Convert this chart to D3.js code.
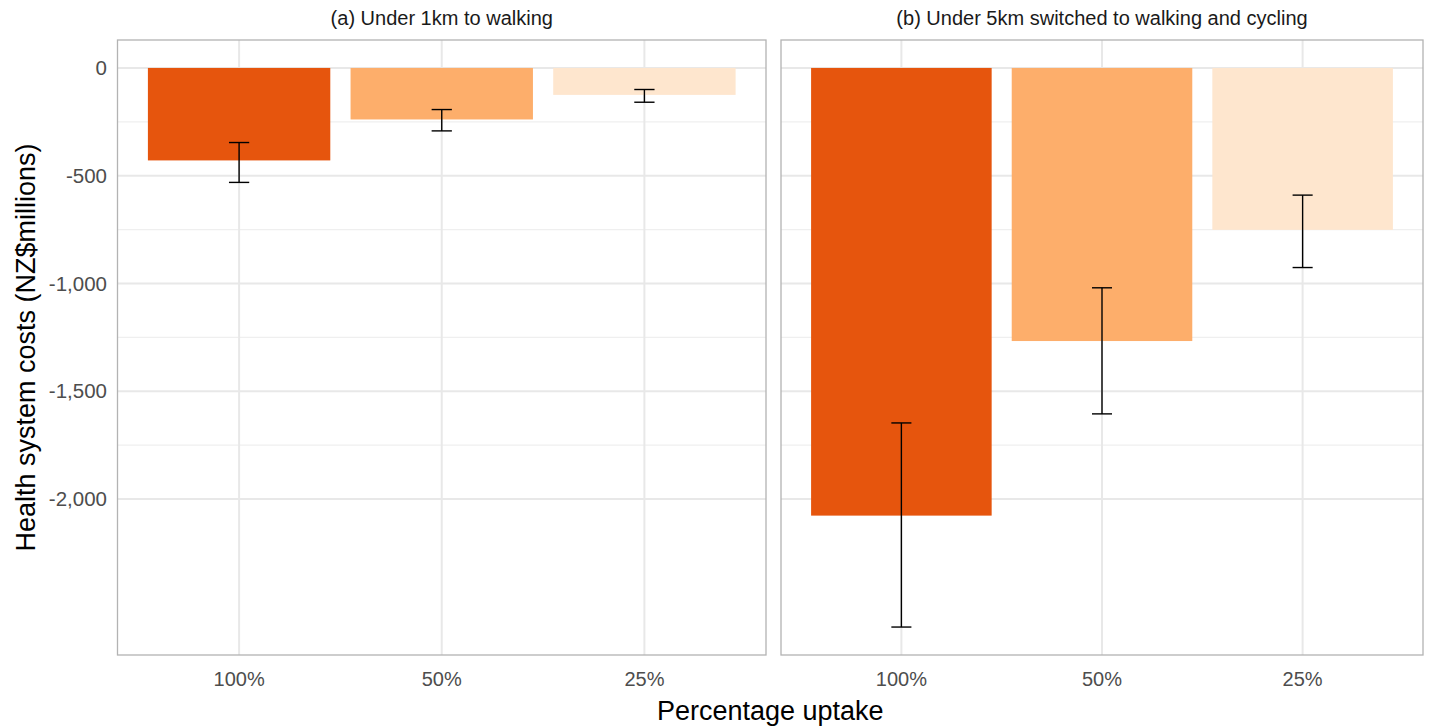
<!DOCTYPE html>
<html>
<head>
<meta charset="utf-8">
<script src="https://cdn.jsdelivr.net/npm/d3@7"></script>
<style>
  body { margin: 0; background: #fff; }
  text { font-family: "Liberation Sans", Arial, sans-serif; }
</style>
</head>
<body>
<div id="chart"></div>
<script>
// Data (NZ$ millions)
var panelTitles = ["(a) Under 1km to walking", "(b) Under 5km switched to walking and cycling"];
var uptake = ["100%", "50%", "25%"];
var uptakeColours = ["#e6550d", "#fdae6b", "#fee6ce"];

var walkCost = [-429, -239, -125];
var walkLow  = [-531, -292, -159];
var walkHigh = [-346, -193, -100];

var cycleCost = [-2077, -1267, -751];
var cycleLow  = [-2594, -1605, -926];
var cycleHigh = [-1647, -1020, -590];

var yBreaks = [0, -500, -1000, -1500, -2000];
var yMinor  = [-250, -750, -1250, -1750];

var panels = [
  {title: panelTitles[0], cost: walkCost, low: walkLow, high: walkHigh},
  {title: panelTitles[1], cost: cycleCost, low: cycleLow, high: cycleHigh}
];

// Layout
var W = 1434, H = 727;
var plotTop = 40, plotBottom = 655;
var panelEdges = [[117.5, 766], [781, 1423]];

var svg = d3.select("#chart").append("svg")
  .attr("width", W)
  .attr("height", H);

// y scale: shared, 5% expansion like ggplot
var allVals = [0].concat(walkLow, cycleLow, walkHigh, cycleHigh, walkCost, cycleCost);
var yMin = d3.min(allVals), yMax = d3.max(allVals);
var pad = (yMax - yMin) * 0.05;
var yScale = d3.scaleLinear()
  .domain([yMin - pad, yMax + pad])
  .range([plotBottom, plotTop]);

var fmt = function(v) { return d3.format(",")(v).replace("\u2212", "-"); };

panels.forEach(function(p, pi) {
  var x0 = panelEdges[pi][0];
  var panelW = panelEdges[pi][1] - x0;

  // x scale: band with ggplot-like spacing (0.6 units outer, bar width 0.9)
  var xScale = d3.scaleBand()
    .domain(uptake)
    .range([0, panelW])
    .paddingInner(0.1)
    .paddingOuter(0.15);
  var step = xScale.step();
  var mid = function(d) { return xScale(d) + xScale.bandwidth() / 2; };

  var g = svg.append("g").attr("transform", "translate(" + x0 + ",0)");

  // minor grid
  g.selectAll(".minor").data(yMinor).enter().append("line")
    .attr("x1", 0).attr("x2", panelW)
    .attr("y1", function(d) { return yScale(d); })
    .attr("y2", function(d) { return yScale(d); })
    .attr("stroke", "#efefef").attr("stroke-width", 1.2);

  // major grid
  g.selectAll(".major").data(yBreaks).enter().append("line")
    .attr("x1", 0).attr("x2", panelW)
    .attr("y1", function(d) { return yScale(d); })
    .attr("y2", function(d) { return yScale(d); })
    .attr("stroke", "#e8e8e8").attr("stroke-width", 2);

  g.selectAll(".vgrid").data(uptake).enter().append("line")
    .attr("x1", mid).attr("x2", mid)
    .attr("y1", plotTop).attr("y2", plotBottom)
    .attr("stroke", "#e8e8e8").attr("stroke-width", 2);

  // bars
  g.selectAll(".bar").data(p.cost).enter().append("rect")
    .attr("x", function(d, i) { return xScale(uptake[i]); })
    .attr("width", xScale.bandwidth())
    .attr("y", yScale(0))
    .attr("height", function(d) { return yScale(d) - yScale(0); })
    .attr("fill", function(d, i) { return uptakeColours[i]; });

  // error bars
  var capW = step * 0.1;
  p.cost.forEach(function(d, i) {
    var cx = mid(uptake[i]);
    var eg = g.append("g").attr("stroke", "#000").attr("stroke-width", 1.4);
    eg.append("line")
      .attr("x1", cx).attr("x2", cx)
      .attr("y1", yScale(p.high[i])).attr("y2", yScale(p.low[i]));
    [p.high[i], p.low[i]].forEach(function(v) {
      eg.append("line")
        .attr("x1", cx - capW / 2).attr("x2", cx + capW / 2)
        .attr("y1", yScale(v)).attr("y2", yScale(v));
    });
  });

  // panel border
  g.append("rect")
    .attr("x", 0).attr("y", plotTop)
    .attr("width", panelW).attr("height", plotBottom - plotTop)
    .attr("fill", "none").attr("stroke", "#b3b3b3").attr("stroke-width", 1.3);

  // strip title
  g.append("text")
    .attr("x", panelW / 2).attr("y", 25)
    .attr("text-anchor", "middle")
    .style("font-size", "20px")
    .attr("fill", "#1a1a1a")
    .text(p.title);

  // x tick labels
  g.selectAll(".xlab").data(uptake).enter().append("text")
    .attr("x", mid)
    .attr("y", 686)
    .attr("text-anchor", "middle")
    .style("font-size", "20px")
    .attr("fill", "#4d4d4d")
    .text(function(d) { return d; });
});

// y tick labels
svg.selectAll(".ylab").data(yBreaks).enter().append("text")
  .attr("x", 107)
  .attr("y", function(d) { return yScale(d); })
  .attr("dy", "0.35em")
  .attr("text-anchor", "end")
  .style("font-size", "20.5px")
  .attr("fill", "#4d4d4d")
  .text(fmt);

// axis titles
svg.append("text")
  .attr("transform", "translate(35," + ((plotTop + plotBottom) / 2) + ") rotate(-90)")
  .attr("text-anchor", "middle")
  .style("font-size", "27px")
  .attr("fill", "#000")
  .text("Health system costs (NZ$millions)");

svg.append("text")
  .attr("x", (panelEdges[0][0] + panelEdges[1][1]) / 2)
  .attr("y", 720)
  .attr("text-anchor", "middle")
  .style("font-size", "27px")
  .attr("fill", "#000")
  .text("Percentage uptake");
</script>
</body>
</html>
